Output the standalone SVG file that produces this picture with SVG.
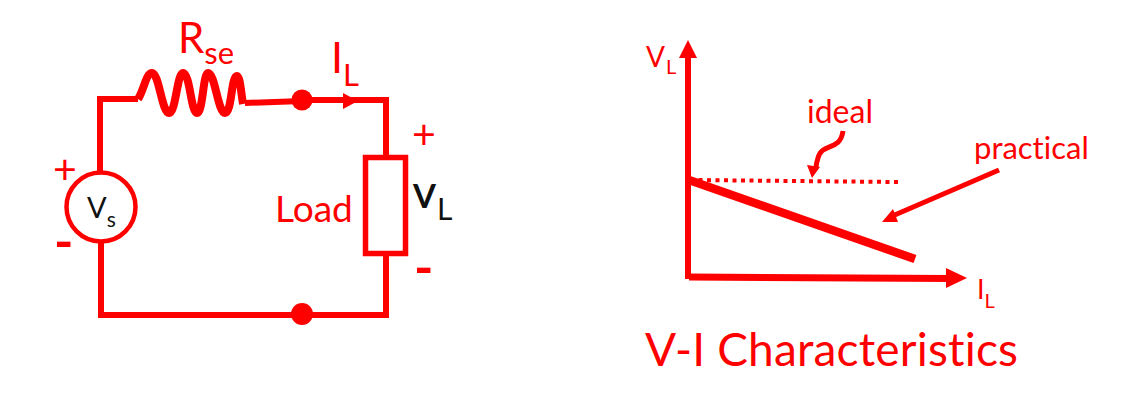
<svg xmlns="http://www.w3.org/2000/svg" width="1131" height="407" viewBox="0 0 1131 407">
<style>
text{font-family:Lato,"Noto Sans","Liberation Sans",sans-serif;fill:#f00;font-variant-ligatures:none}
.w{fill:none;stroke:#f00;stroke-width:6;stroke-linejoin:miter}
.f{fill:#f00;stroke:none}
</style>
<rect width="1131" height="407" fill="#fff"/>
<g id="connectors">
<path class="w" d="M100 172V99H138"/>
<path class="w" d="M245 103L302 101"/>
<path class="w" d="M302 100H386V157"/>
<path class="w" d="M386 253V315H101V240"/>
<path class="f" d="M343 93L358 101L343 109Z"/>
</g>
<g id="resistor"><path fill="none" stroke="#f00" stroke-width="8" d="M138 99C144 90 146 73 152 73C159 73 162 113 169 113C176 113 177 73 183 73C190 73 191 113 197 113C203 113 203 73 208 73C215 73 218 113 225 113C232 113 231 76 237 76C240 76 241 92 243 104"/></g>
<g id="junction-top"><circle class="f" cx="302" cy="100" r="10.500"/></g>
<g id="junction-bottom"><circle class="f" cx="302" cy="314" r="11"/></g>
<g id="source"><circle cx="101" cy="207" r="34.500" fill="#fff" stroke="#f00" stroke-width="4.500"/>
<text x="87" y="218" font-size="29" style="fill:#111">V<tspan font-size="21" dy="9">s</tspan></text></g>
<g id="load"><rect x="365.500" y="157.500" width="40" height="96" fill="#fff" stroke="#f00" stroke-width="5.500"/></g>
<g id="circuit-labels">
<text x="178" y="53" font-size="42">R<tspan font-size="31" dy="11">se</tspan></text>
<text x="331" y="73" font-size="43">I<tspan font-size="31" dy="13">L</tspan></text>
<text x="275" y="222" font-size="37">Load</text>
<text x="413" y="208" font-size="33" font-weight="700" style="fill:#111">V</text>
<text x="437" y="220" font-size="30" style="fill:#111">L</text>
<text x="53" y="184" font-size="41">+</text>
<text x="54" y="260" font-size="52" font-weight="700">-</text>
<text x="412" y="149" font-size="41">+</text>
<text x="414" y="286" font-size="52" font-weight="700">-</text>
</g>
<g id="chart">
<path class="f" d="M688 40L697 58H679Z"/>
<path class="w" d="M688 56V279"/>
<path fill="none" stroke="#f00" stroke-width="7" d="M689 277L950 278.500"/>
<path class="f" d="M946 268L967 278L946 288Z"/>
<path fill="none" stroke="#f00" stroke-width="4" stroke-dasharray="4 4.500" d="M690 180L898 182"/>
<path fill="none" stroke="#f00" stroke-width="8.500" d="M689 180L915 259"/>
<path fill="none" stroke="#f00" stroke-width="5" d="M999 170L890 217"/>
<path class="f" d="M882 222L893 209L898 222Z"/>
<path fill="none" stroke="#f00" stroke-width="5" d="M843 131C840 152 822 142 818 158Q816 164 816 168"/>
<path class="f" d="M807 165L820 167L812 178Z"/>
</g>
<g id="chart-labels">
<text x="646" y="67" font-size="28">V</text>
<text x="666" y="74" font-size="20">L</text>
<text x="807" y="123" font-size="32">ideal</text>
<text x="974" y="159" font-size="31">practical</text>
<text x="977" y="299" font-size="27">I<tspan font-size="20" dy="9">L</tspan></text>
<text x="645" y="366" font-size="46" textLength="373" lengthAdjust="spacing">V-I Characteristics</text>
</g>
</svg>
